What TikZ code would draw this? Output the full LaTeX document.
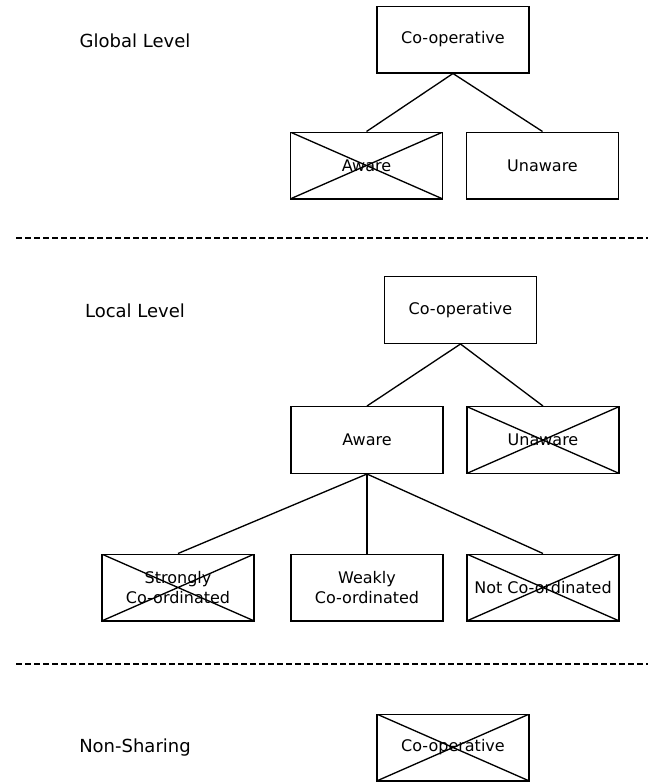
\documentclass[tikz,border=0pt]{standalone}
\usepackage{fontspec}
\setmainfont{DejaVu Sans}
\begin{document}
\begin{tikzpicture}[x=0.75pt,y=-0.75pt,
  box/.style={draw,line width=1pt,minimum width=114pt,minimum height=50pt,inner sep=0pt,align=center,font=\fontsize{12}{15}\selectfont},
  crossed/.style={box,path picture={\draw[line width=1pt] (path picture bounding box.north west) -- (path picture bounding box.south east) (path picture bounding box.south west) -- (path picture bounding box.north east);}},
  level/.style={font=\fontsize{13.5}{16}\selectfont},
  link/.style={line width=1pt},
  sep/.style={line width=2pt,dash pattern=on 4.5pt off 2.25pt}]
\useasboundingbox (0,0) rectangle (658,782);
\node[level] (glob) at (135,41) {Global Level};
\node[box] (gcoop) at (453,39.5) {Co-operative};
\node[crossed] (gaware) at (366.5,165.5) {Aware};
\node[box] (gunaware) at (542.5,165.5) {Unaware};
\draw[link] (gcoop.south) -- (gaware.north);
\draw[link] (gcoop.south) -- (gunaware.north);
\coordinate (s1a) at (16,238);
\coordinate (s1b) at (648,238);
\draw[sep] (s1a) -- (s1b);
\node[level] (loc) at (135,311) {Local Level};
\node[box] (lcoop) at (460.5,310) {Co-operative};
\node[box] (laware) at (367,440) {Aware};
\node[crossed] (lunaware) at (543,440) {Unaware};
\node[crossed] (strong) at (178,587.5) {Strongly\\Co-ordinated};
\node[box] (weak) at (367,587.5) {Weakly\\Co-ordinated};
\node[crossed] (notco) at (543,587.5) {Not Co-ordinated};
\draw[link] (lcoop.south) -- (laware.north);
\draw[link] (lcoop.south) -- (lunaware.north);
\draw[link] (laware.south) -- (strong.north);
\draw[link] (laware.south) -- (weak.north);
\draw[link] (laware.south) -- (notco.north);
\coordinate (s2a) at (16,664);
\coordinate (s2b) at (648,664);
\draw[sep] (s2a) -- (s2b);
\node[level] (non) at (135,748) {Non-Sharing};
\node[crossed] (ncoop) at (453,747.5) {Co-operative};
\end{tikzpicture}
\end{document}
